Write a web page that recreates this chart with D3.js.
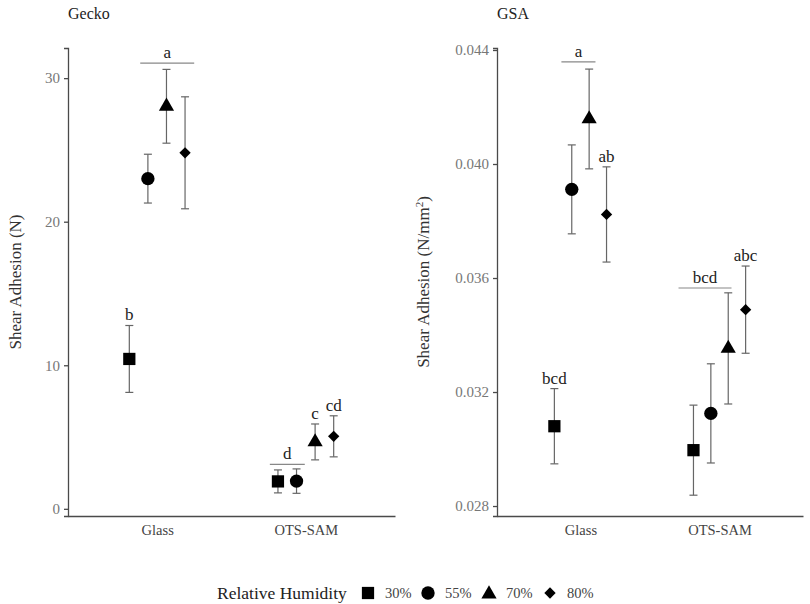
<!DOCTYPE html>
<html>
<head>
<meta charset="utf-8">
<script src="https://cdn.jsdelivr.net/npm/d3@7"></script>
<style>
  body { margin: 0; background: #fff; }
  svg text { font-family: "Times New Roman", "Liberation Serif", "DejaVu Serif", serif !important; }
</style>
</head>
<body>
<script>
const categories = ["Glass", "OTS-SAM"];
const humidity = ["30%", "55%", "70%", "80%"];

// Gecko shear adhesion (N): rows = substrate, columns = humidity
const geckoMean = [[10.44, 23.0, 28.04, 24.8], [1.91, 1.93, 4.66, 5.05]];
const geckoErr = [[2.33, 1.7, 2.57, 3.9], [0.8, 0.85, 1.25, 1.43]];
// GSA shear adhesion (N/mm2)
const gsaMean = [[0.0308, 0.03911, 0.04158, 0.03823], [0.02996, 0.03125, 0.03353, 0.03489]];
const gsaErr = [[0.00132, 0.00156, 0.00175, 0.00167], [0.00158, 0.00174, 0.00195, 0.00153]];

const geckoTicks = [0, 10, 20, 30];
const gsaTicks = [0.028, 0.032, 0.036, 0.04, 0.044];

// letters over a single point: [substrate, humidity, letter]
const geckoLetters = [[0, 0, "b"], [1, 2, "c"], [1, 3, "cd"]];
const gsaLetters = [[0, 0, "bcd"], [0, 3, "ab"], [1, 3, "abc"]];
// letters over a line: [substrate, from, to (in category steps), y, letter]
const geckoBars = [[0, -0.114, 0.249, 31.04, "a"], [1, -0.242, -0.007, 3.1, "d"]];
const gsaBars = [[0, -0.137, 0.108, 0.04358, "a"], [1, -0.295, 0.086, 0.03565, "bcd"]];

const width = 810, height = 604;
const plotTop = 48, plotBottom = 516;
const serif = '"Times New Roman", "Liberation Serif", serif';

const svg = d3.select("body").append("svg")
  .attr("width", width)
  .attr("height", height)
  .attr("font-family", serif);

const shapes = [
  d3.symbol().type(d3.symbolSquare).size(150),
  d3.symbol().type(d3.symbolCircle).size(140),
  d3.symbol().type(d3.symbolTriangle).size(100),
  d3.symbol().type(d3.symbolSquare).size(64)
];
const rot = i => (i === 3 ? " rotate(45)" : "");

function panel(o) {
  const g = svg.append("g");
  const x = d3.scalePoint().domain(categories).range([o.x0, o.x1]).padding(0.6);
  const step = x.step();
  const dodge = d3.scaleBand().domain(humidity).range([-0.25 * step, 0.25 * step]);
  const px = (c, h) => x(categories[c]) + dodge(humidity[h]) + dodge.bandwidth() / 2;
  const y = d3.scaleLinear().domain(o.domain).range([plotBottom, plotTop]);

  // axes
  const ya = g.append("g")
    .attr("transform", `translate(${o.x0},0)`)
    .call(d3.axisLeft(y).tickValues(o.ticks).tickFormat(o.fmt).tickSize(4).tickPadding(4));
  ya.attr("font-family", serif);
  ya.select(".domain").attr("stroke", "#4a4a4a").attr("stroke-width", 1.3);
  ya.selectAll(".tick line").attr("stroke", "#4a4a4a").attr("stroke-width", 1.3);
  ya.selectAll(".tick text")
    .attr("fill", "#777")
    .style("font-size", "15px");

  const xa = g.append("g")
    .attr("transform", `translate(0,${plotBottom})`)
    .call(d3.axisBottom(x).tickSize(0).tickPadding(9));
  xa.attr("font-family", serif);
  xa.select(".domain").attr("stroke", "#4a4a4a").attr("stroke-width", 1.3);
  xa.selectAll(".tick text")
    .attr("fill", "#444")
    .style("font-size", "14.5px");

  // titles
  g.append("text")
    .attr("x", o.x0)
    .attr("y", 19)
    .attr("fill", "#222")
    .style("font-size", "16px")
    .text(o.title);

  const yt = g.append("text")
    .attr("transform", `translate(${o.ytx},${(plotTop + plotBottom) / 2}) rotate(-90)`)
    .attr("text-anchor", "middle")
    .attr("fill", "#333")
    .style("font-size", "17px");
  o.ytitle(yt);

  // points
  const pts = [];
  o.mean.forEach((row, c) => row.forEach((m, h) => pts.push({ c, h, m, e: o.err[c][h] })));

  g.selectAll("g.err").data(pts).join("g")
    .attr("class", "err")
    .each(function (d) {
      const s = d3.select(this);
      const cx = px(d.c, d.h);
      const y1 = y(d.m + d.e), y2 = y(d.m - d.e);
      s.append("line").attr("x1", cx).attr("x2", cx).attr("y1", y1).attr("y2", y2);
      s.append("line").attr("x1", cx - 4).attr("x2", cx + 4).attr("y1", y1).attr("y2", y1);
      s.append("line").attr("x1", cx - 4).attr("x2", cx + 4).attr("y1", y2).attr("y2", y2);
    })
    .selectAll("line")
    .attr("stroke", "#666")
    .attr("stroke-width", 1.2);

  g.selectAll("path.pt").data(pts).join("path")
    .attr("class", "pt")
    .attr("d", d => shapes[d.h]())
    .attr("transform", d => `translate(${px(d.c, d.h)},${y(d.m)})${rot(d.h)}`)
    .attr("fill", "#000");

  // significance letters
  g.selectAll("text.let").data(o.letters).join("text")
    .attr("class", "let")
    .attr("x", d => px(d[0], d[1]))
    .attr("y", d => y(o.mean[d[0]][d[1]] + o.err[d[0]][d[1]]) - 5)
    .attr("text-anchor", "middle")
    .attr("fill", "#222")
    .style("font-size", "17px")
    .text(d => d[2]);

  o.bars.forEach(b => {
    const xa0 = x(categories[b[0]]) + b[1] * step;
    const xa1 = x(categories[b[0]]) + b[2] * step;
    g.append("line")
      .attr("x1", xa0).attr("x2", xa1)
      .attr("y1", y(b[3])).attr("y2", y(b[3]))
      .attr("stroke", "#888").attr("stroke-width", 1.2);
    g.append("text")
      .attr("x", (xa0 + xa1) / 2)
      .attr("y", y(b[3]) - 5)
      .attr("text-anchor", "middle")
      .attr("fill", "#222")
      .style("font-size", "17px")
      .text(b[4]);
  });
}

panel({
  x0: 68, x1: 395, domain: [-0.5, 32.1], ticks: geckoTicks, fmt: d3.format("d"),
  mean: geckoMean, err: geckoErr, letters: geckoLetters, bars: geckoBars,
  title: "Gecko", ytx: 21,
  ytitle: t => t.text("Shear Adhesion (N)")
});

panel({
  x0: 497, x1: 803, domain: [0.02765, 0.04407], ticks: gsaTicks, fmt: d3.format(".3f"),
  mean: gsaMean, err: gsaErr, letters: gsaLetters, bars: gsaBars,
  title: "GSA", ytx: 429,
  ytitle: t => {
    t.append("tspan").text("Shear Adhesion (N/mm");
    t.append("tspan").attr("dy", -6).style("font-size", "11px").text("2");
    t.append("tspan").attr("dy", 6).text(")");
  }
});

// legend
const leg = svg.append("g").attr("transform", "translate(0,593)");
leg.append("text")
  .attr("x", 217).attr("y", 6)
  .attr("fill", "#222")
  .style("font-size", "17.5px")
  .text("Relative Humidity");
const legX = [368, 428, 489, 550];
humidity.forEach((h, i) => {
  leg.append("path")
    .attr("d", shapes[i]())
    .attr("transform", `translate(${legX[i]},${i === 2 ? 1 : 0})${rot(i)}`)
    .attr("fill", "#000");
  leg.append("text")
    .attr("x", legX[i] + 17).attr("y", 5)
    .attr("fill", "#444")
    .style("font-size", "14.5px")
    .text(h);
});
</script>
</body>
</html>
